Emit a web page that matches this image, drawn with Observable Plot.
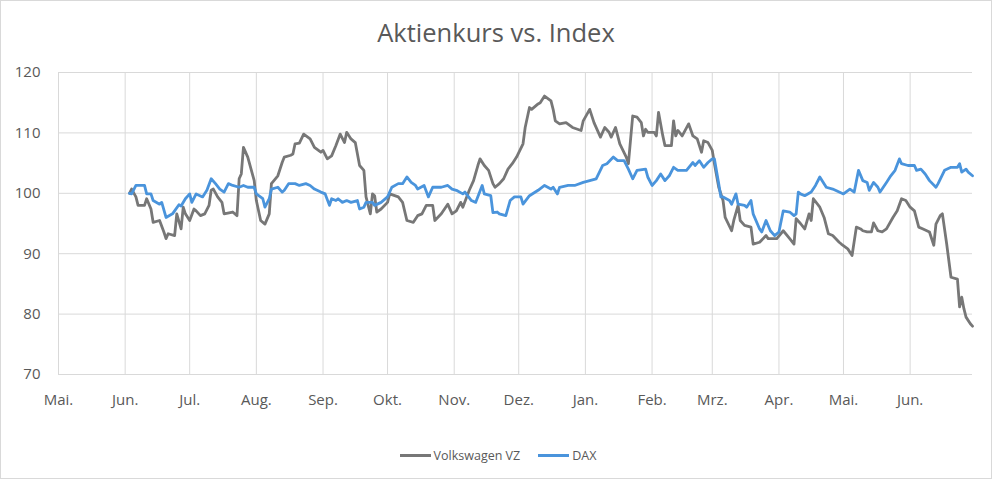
<!DOCTYPE html>
<html>
<head>
<meta charset="utf-8">
<script src="https://cdn.jsdelivr.net/npm/d3@7"></script>
<script src="https://cdn.jsdelivr.net/npm/@observablehq/plot@0.6"></script>
<style>
  html, body { margin: 0; padding: 0; background: #fff; }
  #frame { position: relative; width: 992px; height: 480px; overflow: hidden; font-family: "Open Sans", sans-serif; color: #595959; }
  #border { position: absolute; left: 0; top: 0; width: 990px; height: 477px; border: 1px solid #d9d9d9; pointer-events: none; }
  #title { height: 52px; box-sizing: border-box; padding-top: 20px; font-size: 25.5px; line-height: 24px; text-align: center; color: #595959; }
  #legend { height: 26px; display: flex; justify-content: center; align-items: center; font-size: 12.5px; color: #595959; padding-left: 4px; }
  .item { display: flex; align-items: center; }
  .sw { width: 31px; height: 3px; margin-right: 3px; }
  .gap { width: 18px; }
</style>
</head>
<body>
<div id="frame">
  <div id="title">Aktienkurs vs. Index</div>
  <div id="chart"></div>
  <div id="legend"></div>
  <div id="border"></div>
</div>
<script>
const seriesNames = ["Volkswagen VZ", "DAX"];
const seriesColors = ["#777777", "#4a94dc"];

const monthStarts = ["2021-05-01","2021-06-01","2021-07-01","2021-08-01","2021-09-01","2021-10-01","2021-11-01","2021-12-01","2022-01-01","2022-02-01","2022-03-01","2022-04-01","2022-05-01","2022-06-01"];
const monthLabels = ["Mai.","Jun.","Jul.","Aug.","Sep.","Okt.","Nov.","Dez.","Jan.","Feb.","Mrz.","Apr.","Mai.","Jun."];
const xEnd = "2022-06-30";
const yTicks = [70, 80, 90, 100, 110, 120];

const vwDates = ["2021-06-03","2021-06-04","2021-06-06","2021-06-07","2021-06-10","2021-06-11","2021-06-13","2021-06-14","2021-06-17","2021-06-19","2021-06-20","2021-06-21","2021-06-24","2021-06-25","2021-06-27","2021-06-28","2021-06-29",
"2021-07-01","2021-07-03","2021-07-04","2021-07-06","2021-07-08","2021-07-10","2021-07-11","2021-07-12","2021-07-14","2021-07-16","2021-07-17","2021-07-21","2021-07-23","2021-07-24","2021-07-25","2021-07-26","2021-07-28","2021-07-31",
"2021-08-01","2021-08-03","2021-08-05","2021-08-07","2021-08-08","2021-08-11","2021-08-13","2021-08-14","2021-08-17","2021-08-18","2021-08-19","2021-08-21","2021-08-23","2021-08-26","2021-08-28","2021-08-31",
"2021-09-01","2021-09-03","2021-09-05","2021-09-07","2021-09-09","2021-09-11","2021-09-12","2021-09-14","2021-09-16","2021-09-18","2021-09-20","2021-09-21","2021-09-23","2021-09-24","2021-09-25","2021-09-26","2021-09-28",
"2021-10-01","2021-10-02","2021-10-06","2021-10-08","2021-10-10","2021-10-13","2021-10-15","2021-10-17","2021-10-19","2021-10-22","2021-10-23","2021-10-26","2021-10-29","2021-10-31",
"2021-11-02","2021-11-04","2021-11-05","2021-11-08","2021-11-10","2021-11-12","2021-11-13","2021-11-15","2021-11-17","2021-11-19","2021-11-20","2021-11-22","2021-11-24","2021-11-26","2021-11-28","2021-11-30",
"2021-12-03","2021-12-04","2021-12-06","2021-12-07","2021-12-10","2021-12-11","2021-12-13","2021-12-16","2021-12-17","2021-12-18","2021-12-20","2021-12-23","2021-12-26","2021-12-30","2021-12-31",
"2022-01-03","2022-01-05","2022-01-08","2022-01-10","2022-01-12","2022-01-13","2022-01-15","2022-01-17","2022-01-20","2022-01-21","2022-01-23","2022-01-25","2022-01-27","2022-01-28","2022-01-29","2022-01-30",
"2022-02-02","2022-02-03","2022-02-04","2022-02-06","2022-02-07","2022-02-10","2022-02-11","2022-02-12","2022-02-13","2022-02-15","2022-02-18","2022-02-20","2022-02-22","2022-02-24","2022-02-25","2022-02-27",
"2022-03-01","2022-03-02","2022-03-04","2022-03-06","2022-03-07","2022-03-10","2022-03-11","2022-03-13","2022-03-14","2022-03-16","2022-03-19","2022-03-20","2022-03-23","2022-03-26","2022-03-27","2022-03-31",
"2022-04-03","2022-04-06","2022-04-08","2022-04-09","2022-04-11","2022-04-13","2022-04-15","2022-04-16","2022-04-17","2022-04-20","2022-04-22","2022-04-24","2022-04-26","2022-04-29","2022-04-30",
"2022-05-03","2022-05-05","2022-05-07","2022-05-09","2022-05-10","2022-05-12","2022-05-14","2022-05-15","2022-05-17","2022-05-19","2022-05-21","2022-05-24","2022-05-26","2022-05-28","2022-05-30",
"2022-06-01","2022-06-03","2022-06-05","2022-06-07","2022-06-10","2022-06-12","2022-06-13","2022-06-15","2022-06-16","2022-06-18","2022-06-20","2022-06-23","2022-06-24","2022-06-25","2022-06-26","2022-06-27","2022-06-29","2022-06-30"];
const vwValues = [100.0,100.7,99.4,98.0,98.0,99.1,97.4,95.2,95.5,93.6,92.5,93.3,93.0,96.6,94.1,97.7,96.6,
95.5,97.4,97.1,96.3,96.6,98.0,100.5,100.7,99.4,98.5,96.6,96.9,96.3,102.4,103.2,107.6,106.0,102.1,
98.8,95.5,94.9,96.6,101.6,102.9,105.1,106.0,106.3,106.5,108.2,108.3,109.8,109.0,107.6,106.8,
107.1,105.7,106.2,107.9,109.8,108.4,110.1,109.0,108.4,104.6,103.8,99.4,96.6,99.9,99.6,96.9,97.4,
98.5,99.9,99.4,98.5,95.5,95.2,96.3,96.6,98.0,98.0,95.5,96.6,98.2,96.6,
97.1,98.5,97.7,100.5,102.1,104.6,105.7,104.6,103.8,101.6,101.0,101.6,102.4,104.0,104.9,106.0,
108.2,110.9,114.2,113.9,114.8,115.0,116.1,115.3,113.9,112.0,111.5,111.7,110.9,110.4,112.0,
113.9,111.7,109.3,110.9,110.1,109.3,110.9,108.2,106.0,104.9,112.8,112.6,111.7,109.5,110.6,110.1,
110.1,109.5,113.4,109.5,107.9,107.9,112.0,109.5,110.4,109.5,111.5,109.5,109.0,106.8,108.7,108.4,
107.1,104.9,101.0,98.8,96.0,93.8,95.5,98.0,95.5,94.7,94.4,91.6,91.9,93.0,92.5,92.5,
93.8,92.5,91.6,95.8,95.0,94.1,96.6,95.5,99.1,97.7,96.0,93.3,93.0,91.9,91.6,
90.8,89.7,94.4,94.1,93.8,93.6,93.6,95.1,93.8,93.6,94.1,96.0,97.1,99.1,98.8,
97.7,97.1,94.4,94.1,93.6,91.4,94.9,96.3,96.6,91.6,86.1,85.8,81.2,82.8,80.9,79.5,78.4,78.0];

const daxDates = ["2021-06-03","2021-06-04","2021-06-06","2021-06-10","2021-06-11","2021-06-13","2021-06-14","2021-06-17","2021-06-18","2021-06-20","2021-06-23","2021-06-24","2021-06-26","2021-06-27","2021-06-29",
"2021-07-01","2021-07-02","2021-07-04","2021-07-07","2021-07-09","2021-07-11","2021-07-13","2021-07-15","2021-07-17","2021-07-19","2021-07-21","2021-07-24","2021-07-26","2021-07-28","2021-07-31",
"2021-08-01","2021-08-04","2021-08-05","2021-08-07","2021-08-08","2021-08-11","2021-08-13","2021-08-14","2021-08-16","2021-08-19","2021-08-21","2021-08-24","2021-08-26","2021-08-28","2021-08-31",
"2021-09-02","2021-09-04","2021-09-05","2021-09-07","2021-09-08","2021-09-10","2021-09-12","2021-09-14","2021-09-17","2021-09-18","2021-09-20","2021-09-21","2021-09-24","2021-09-25","2021-09-28",
"2021-10-01","2021-10-03","2021-10-06","2021-10-08","2021-10-10","2021-10-12","2021-10-14","2021-10-15","2021-10-18","2021-10-20","2021-10-22","2021-10-26","2021-10-29","2021-10-31",
"2021-11-02","2021-11-05","2021-11-06","2021-11-09","2021-11-11","2021-11-14","2021-11-15","2021-11-18","2021-11-19","2021-11-21","2021-11-22","2021-11-25","2021-11-27","2021-11-29",
"2021-12-02","2021-12-03","2021-12-06","2021-12-10","2021-12-13","2021-12-16","2021-12-17","2021-12-19","2021-12-20","2021-12-24","2021-12-27","2021-12-31",
"2022-01-03","2022-01-06","2022-01-09","2022-01-11","2022-01-14","2022-01-16","2022-01-19","2022-01-21","2022-01-23","2022-01-25","2022-01-29","2022-01-30",
"2022-02-01","2022-02-03","2022-02-05","2022-02-07","2022-02-09","2022-02-11","2022-02-13","2022-02-17","2022-02-20","2022-02-21","2022-02-23","2022-02-25","2022-02-27",
"2022-03-01","2022-03-02","2022-03-04","2022-03-05","2022-03-06","2022-03-09","2022-03-10","2022-03-12","2022-03-13","2022-03-16","2022-03-17","2022-03-19","2022-03-20","2022-03-23","2022-03-24","2022-03-26","2022-03-28","2022-03-30",
"2022-04-01","2022-04-03","2022-04-06","2022-04-08","2022-04-09","2022-04-10","2022-04-11","2022-04-13","2022-04-16","2022-04-18","2022-04-20","2022-04-23","2022-04-26",
"2022-05-01","2022-05-04","2022-05-06","2022-05-08","2022-05-10","2022-05-12","2022-05-13","2022-05-15","2022-05-17","2022-05-18","2022-05-21","2022-05-23","2022-05-25","2022-05-27","2022-05-28","2022-05-31",
"2022-06-03","2022-06-04","2022-06-06","2022-06-08","2022-06-10","2022-06-13","2022-06-14","2022-06-17","2022-06-20","2022-06-23","2022-06-24","2022-06-25","2022-06-27","2022-06-28","2022-06-30"];
const daxValues = [100.0,99.9,101.3,101.3,99.9,99.9,98.8,98.2,98.5,96.0,96.6,97.1,98.1,97.9,99.1,
99.9,98.5,99.9,99.4,100.5,102.4,101.6,100.7,100.2,101.6,101.3,101.0,101.3,101.0,101.0,
99.9,99.1,97.7,99.1,100.7,101.0,100.2,100.5,101.6,101.6,101.3,101.6,101.3,100.7,100.2,
99.9,98.0,99.1,98.8,99.1,98.5,98.8,98.5,98.8,97.4,97.7,98.5,98.5,98.0,98.5,
99.4,101.0,101.6,101.6,102.7,101.8,101.3,100.7,101.3,99.4,101.0,101.0,101.3,100.7,
100.5,99.9,100.2,98.8,98.5,101.3,99.9,99.6,96.8,96.9,96.6,96.3,98.8,99.4,
99.4,98.2,99.6,100.5,101.3,100.7,101.0,99.9,101.0,101.3,101.3,101.8,
102.1,102.4,104.6,104.9,106.0,105.4,105.4,104.0,102.4,103.8,104.0,102.7,
101.3,102.1,103.2,102.1,102.9,104.3,103.8,103.8,105.1,104.6,105.4,104.3,105.1,
105.7,105.7,101.6,99.4,99.4,98.8,98.2,99.9,98.2,98.0,97.7,98.8,96.6,94.1,93.6,95.5,93.8,93.0,
93.6,97.1,96.9,96.3,96.6,100.2,99.9,99.6,100.2,101.3,102.7,101.0,100.7,
99.9,100.7,100.2,103.8,102.1,101.8,100.5,101.8,101.0,100.2,101.8,102.9,103.8,105.7,104.9,104.6,
104.6,103.8,104.0,103.2,102.1,101.0,101.6,103.8,104.3,104.3,104.9,103.5,104.0,103.5,102.9];

const rows = [
  ...vwDates.map((d, i) => ({series: seriesNames[0], date: new Date(d), value: vwValues[i]})),
  ...daxDates.map((d, i) => ({series: seriesNames[1], date: new Date(d), value: daxValues[i]}))
];
const ticksX = monthStarts.map(d => new Date(d));
const labelOf = new Map(monthStarts.map((d, i) => [+new Date(d), monthLabels[i]]));

const chart = Plot.plot({
  width: 992,
  height: 390,
  marginTop: 20,
  marginBottom: 68,
  marginLeft: 58,
  marginRight: 20,
  style: {fontFamily: "'Open Sans', sans-serif", color: "#595959", background: "transparent", overflow: "visible"},
  x: {type: "utc", domain: [new Date(monthStarts[0]), new Date(xEnd)], label: null},
  y: {domain: [70, 120], label: null},
  marks: [
    Plot.gridY(yTicks, {stroke: "#d9d9d9", strokeOpacity: 1, strokeWidth: 1}),
    Plot.gridX(ticksX, {stroke: "#d9d9d9", strokeOpacity: 1, strokeWidth: 1}),
    Plot.axisY(yTicks, {tickSize: 0, tickPadding: 18, fontSize: 15, fill: "#595959", label: null}),
    Plot.axisX(ticksX, {tickSize: 0, tickPadding: 20, fontSize: 15, fill: "#595959", label: null, tickFormat: d => labelOf.get(+d)}),
    Plot.lineY(rows.filter(r => r.series === seriesNames[0]), {x: "date", y: "value", stroke: seriesColors[0], strokeWidth: 2.8, strokeLinejoin: "round"}),
    Plot.lineY(rows.filter(r => r.series === seriesNames[1]), {x: "date", y: "value", stroke: seriesColors[1], strokeWidth: 2.8, strokeLinejoin: "round"})
  ]
});
document.getElementById("chart").appendChild(chart);

const legend = document.getElementById("legend");
seriesNames.forEach((name, i) => {
  if (i > 0) { const g = document.createElement("div"); g.className = "gap"; legend.appendChild(g); }
  const it = document.createElement("div"); it.className = "item";
  const sw = document.createElement("div"); sw.className = "sw"; sw.style.background = seriesColors[i];
  const tx = document.createElement("span"); tx.textContent = name;
  it.appendChild(sw); it.appendChild(tx); legend.appendChild(it);
});
</script>
</body>
</html>
